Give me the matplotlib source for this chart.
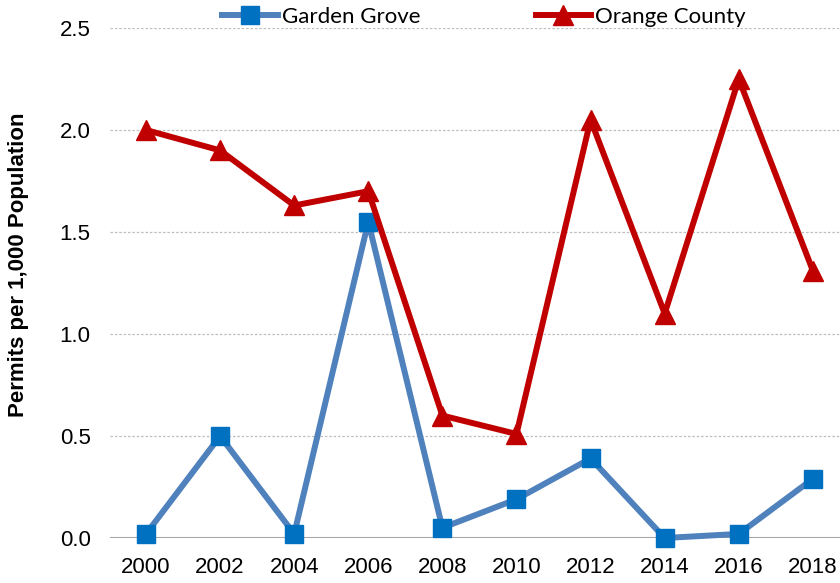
import matplotlib
matplotlib.use("Agg")
import matplotlib.pyplot as plt

years = ["2000", "2002", "2004", "2006", "2008", "2010", "2012", "2014", "2016", "2018"]
garden_grove = [0.02, 0.50, 0.02, 1.55, 0.05, 0.19, 0.39, 0.00, 0.02, 0.29]
orange_county = [2.00, 1.90, 1.63, 1.70, 0.60, 0.51, 2.05, 1.10, 2.25, 1.31]
yticks = [0.0, 0.5, 1.0, 1.5, 2.0, 2.5]

sans = ["Liberation Sans", "DejaVu Sans"]

fig = plt.figure(figsize=(8.4, 5.83), dpi=100)
ax = fig.add_axes([110/840, 45/583, 730/840, 510/583])

x = list(range(len(years)))
ax.plot(x, garden_grove, color="#4F81BD", lw=4.3, marker="s", ms=13.5,
        mfc="#0070C0", mec="#0070C0", clip_on=False, zorder=3, label="Garden Grove")
ax.plot(x, orange_county, color="#C00000", lw=4.3, marker="^", ms=15,
        mfc="#C00000", mec="#C00000", clip_on=False, zorder=3, label="Orange County")

ax.set_xlim(-0.486, 9.366)
ax.set_ylim(0, 2.5)
ax.set_yticks(yticks)
ax.set_yticklabels([f"{v:.1f}" for v in yticks], fontfamily=sans, fontsize=16)
ax.set_xticks(x)
ax.set_xticklabels(years, fontfamily=sans, fontsize=16)
ax.tick_params(axis="y", length=0, pad=14)
ax.tick_params(axis="x", length=0, pad=14)

for v in yticks[1:]:
    ax.axhline(v, color="#BFBFBF", lw=0.9, ls=(0, (2, 1.5)), zorder=1)
ax.axhline(0, color="#A6A6A6", lw=1.5, zorder=2)
for s in ax.spines.values():
    s.set_visible(False)

fig.text(19/840, 1 - 265/583, "Permits per 1,000 Population", rotation=90,
         ha="center", va="center", fontfamily=sans, fontweight="bold", fontsize=16)

leg = fig.legend(loc="center", bbox_to_anchor=(484/840, 1 - 17/583), ncol=2,
                 frameon=False, prop={"family": "Lato", "size": 16},
                 handlelength=2.5, handletextpad=0.18, columnspacing=5.2,
                 borderaxespad=0, borderpad=0)

fig.savefig("out.png", dpi=100)
